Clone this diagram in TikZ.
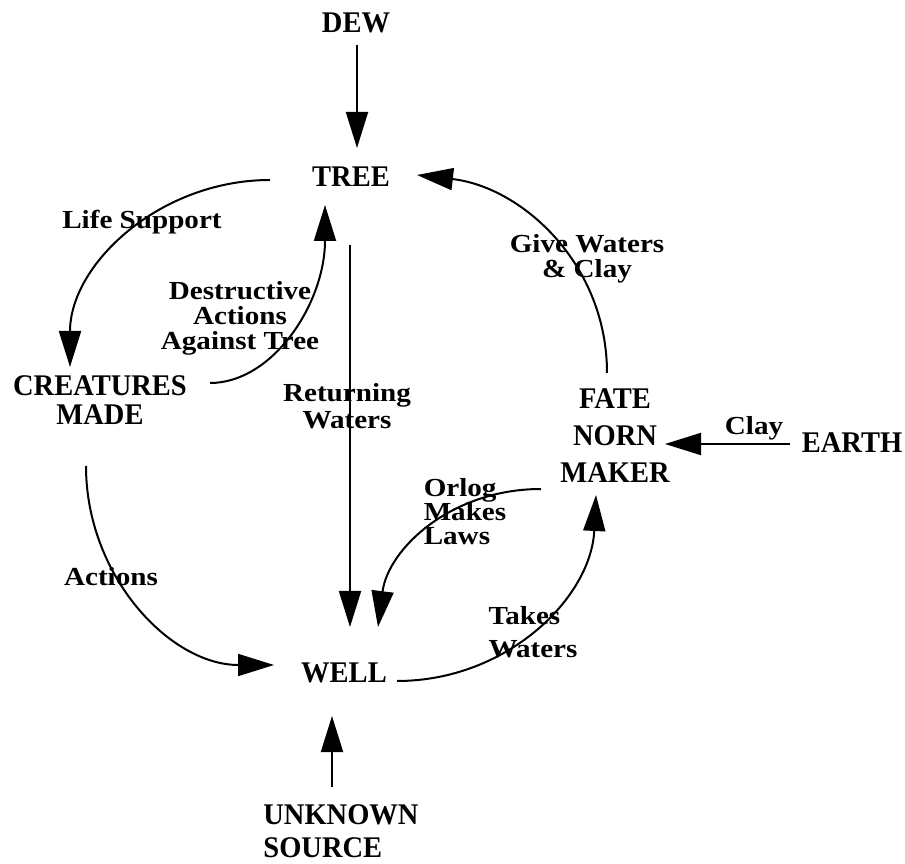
\documentclass[tikz,border=0pt]{standalone}
\usepackage{fontspec}
\setmainfont{Liberation Serif}
\newfontfamily\nodefont[FakeStretch=0.95]{Liberation Serif}
\newfontfamily\labelfont[FakeStretch=1.12]{Liberation Serif}
\usetikzlibrary{calc,arrows.meta}

\begin{document}
\begin{tikzpicture}[x=1pt,y=1pt,
  every node/.style={inner sep=0pt,align=center,font=\nodefont\bfseries\fontsize{30}{29}\selectfont},
  lbl/.style={font=\labelfont\bfseries\fontsize{26}{#1}\selectfont},
  lbl/.default=26,
  flow/.style={line width=2pt,-{Triangle[length=36pt,width=22pt]}}]
\useasboundingbox (0,0) rectangle (905,863);

\node (dew) at (356,840){DEW};
\node (tree) at (351,686){TREE};
\node (creatures) at (100,463){CREATURES\\MADE};
\node (well) at (344,190){WELL};
\node[font=\nodefont\bfseries\fontsize{30}{37}\selectfont] (fate) at (615,427){FATE\\NORN\\MAKER};
\node (earth) at (852,420){EARTH};
\node[align=left,font=\nodefont\bfseries\fontsize{30}{33}\selectfont] (unknown) at (341,32){UNKNOWN\\SOURCE};

\node[lbl] (lifesup) at (142,641){Life Support};
\node[lbl=25] (destr) at (240,545){Destructive\\Actions\\Against Tree};
\node[lbl=27] (retw) at (347,457){Returning\\Waters};
\node[lbl=25] (givew) at (587,604){Give Waters\\\& Clay};
\node[lbl] (actions) at (111,286){Actions};
\node[lbl=24,align=left] (orlog) at (465,351){Orlog\\Makes\\Laws};
\node[lbl=33,align=left] (takes) at (533,231){Takes\\Waters};
\node[lbl] (clay) at (754,435){Clay};

\draw[flow] ($(dew)+(1,-22)$) -- ($(tree)+(6,29)$);
\draw[flow] ($(tree)+(-81,-3)$) .. controls +(-110,0) and +(0,103) .. ($(creatures)+(-30,33)$);
\draw[flow] ($(creatures)+(110,17)$) .. controls +(63,0) and +(0,-98) .. ($(tree)+(-26,-28)$);
\draw[flow] ($(tree)+(-1,-68)$) -- ($(well)+(6,46)$);

\draw[flow] ($(creatures)+(-14,-66)$) .. controls +(0,-110) and +(-104,0) .. ($(well)+(-70,8)$);
\draw[flow] ($(fate)+(-74,-53)$) .. controls +(-90,0) and +(10,78) .. ($(well)+(34,46)$);
\draw[flow] ($(well)+(53,-8)$) .. controls +(110,0) and +(-5,-103) .. ($(fate)+(-19,-59)$);
\draw[flow] ($(fate)+(-8,63)$) .. controls +(0,109) and +(105,-12) .. ($(tree)+(66,2)$);

\draw[flow] ($(earth)+(-62,-1)$) -- ($(fate)+(50,-8)$);
\draw[flow] ($(unknown)+(-9,44)$) -- ($(well)+(-12,-43)$);
\end{tikzpicture}
\end{document}
